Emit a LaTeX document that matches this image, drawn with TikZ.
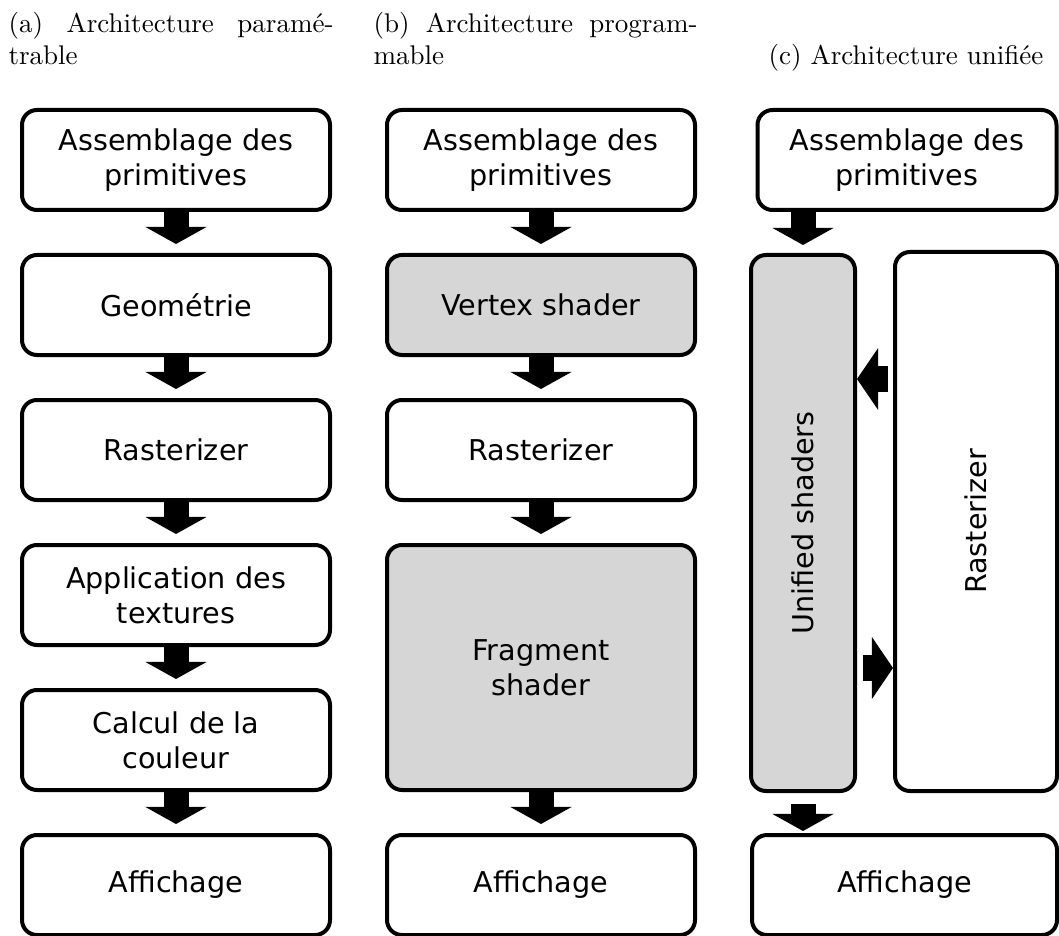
\documentclass[tikz,border=0pt]{standalone}
\usepackage{fontspec}
\newfontfamily\boxfont{DejaVu Sans}
\usetikzlibrary{arrows.meta,calc}
\definecolor{shadegray}{RGB}{214,214,214}
\def\pxu{0.37pt}
\begin{document}
\begin{tikzpicture}[x=0.37pt,y=-0.37pt,
  blk/.style={draw, line width=4*\pxu, rounded corners=15*\pxu, inner sep=0pt, align=center,
    font=\boxfont\fontsize{10.6}{12.95}\selectfont, minimum width=308*\pxu, minimum height=100*\pxu},
  shd/.style={blk, fill=shadegray},
  vfat/.style={line width=9.25pt, -{Triangle[width=22.6pt, length=6.3pt, line width=0pt]}},
  hfat/.style={line width=9.6pt, -{Triangle[width=22.9pt, length=7.8pt, line width=0pt]}},
  captxt/.style={anchor=base west, inner sep=0pt, font=\fontsize{10}{12}\selectfont}]
\useasboundingbox (0,0) rectangle (1059,936);

% captions
\node[captxt] (capa1) at (8,33) {\makebox[120.25pt][s]{(a) Architecture paramé-}};
\node[captxt] (capa2) at (8,65) {trable};
\node[captxt] (capb1) at (373,33) {\makebox[119.9pt][s]{(b) Architecture program-}};
\node[captxt] (capb2) at (373,65) {mable};
\node[captxt, anchor=base] (capc) at (906,65) {(c) Architecture unifiée};

% column a
\node[blk] (a1) at (176,160) {Assemblage des\\primitives};
\node[blk] (a2) at (176,305) {Geométrie};
\node[blk] (a3) at (176,450) {Rasterizer};
\node[blk] (a4) at (176,595) {Application des\\textures};
\node[blk] (a5) at (176,740) {Calcul de la\\couleur};
\node[blk] (a6) at (176,885) {Affichage};

% column b
\node[blk] (b1) at (541,160) {Assemblage des\\primitives};
\node[shd] (b2) at (541,305) {Vertex shader};
\node[blk] (b3) at (541,450) {Rasterizer};
\node[shd, minimum height=245*\pxu] (b4) at (541,667.5) {Fragment\\shader};
\node[blk] (b5) at (541,885) {Affichage};

% column c
\node[blk, minimum width=299*\pxu] (c1) at (907,160) {Assemblage des\\primitives};
\node[shd, rotate=90, minimum width=536*\pxu, minimum height=104*\pxu] (cu) at (803,523) {Unified shaders};
\node[blk, rotate=90, minimum width=539*\pxu, minimum height=162*\pxu] (cr) at (976,521.5) {Rasterizer};
\node[blk, minimum width=305*\pxu] (c3) at (904.5,885) {Affichage};

% arrows a
\draw[vfat] (a1.south) -- ([yshift=9*\pxu]a2.north);
\draw[vfat] (a2.south) -- ([yshift=9*\pxu]a3.north);
\draw[vfat] (a3.south) -- ([yshift=9*\pxu]a4.north);
\draw[vfat] (a4.south) -- ([yshift=9*\pxu]a5.north);
\draw[vfat] (a5.south) -- ([yshift=9*\pxu]a6.north);

% arrows b
\draw[vfat] (b1.south) -- ([yshift=9*\pxu]b2.north);
\draw[vfat] (b2.south) -- ([yshift=9*\pxu]b3.north);
\draw[vfat] (b3.south) -- ([yshift=9*\pxu]b4.north);
\draw[vfat] (b4.south) -- ([yshift=9*\pxu]b5.north);

% arrows c
\coordinate (ctop) at (cu.east |- c1.south);
\draw[vfat] (ctop) -- ([yshift=8*\pxu]cu.east);
\coordinate (cbot) at (cu.west |- c3.north);
\draw[vfat] ([yshift=-11*\pxu]cu.west) -- ([yshift=2*\pxu]cbot);
\coordinate (ya) at (0,379);
\coordinate (yb) at (0,668);
\coordinate (l1) at (cr.north |- ya);
\coordinate (l2) at (cu.south |- ya);
\draw[hfat] ([xshift=-5*\pxu]l1) -- (l2);
\coordinate (r1) at (cu.south |- yb);
\coordinate (r2) at (cr.north |- yb);
\draw[hfat] ([xshift=6*\pxu]r1) -- (r2);
\end{tikzpicture}
\end{document}
